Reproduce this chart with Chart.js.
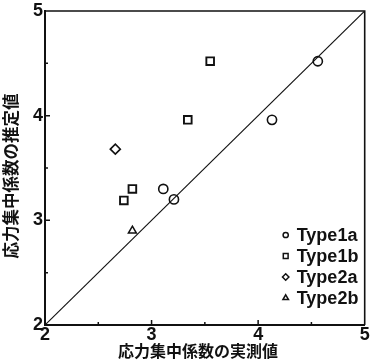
<!DOCTYPE html>
<html>
<head>
<meta charset="utf-8">
<script src="https://cdn.jsdelivr.net/npm/chart.js@4.4.1/dist/chart.umd.min.js"></script>
<style>
  html, body { margin: 0; padding: 0; background: #fff; }
  #wrap { width: 372px; height: 364px; }
</style>
</head>
<body>
<div id="wrap"><canvas id="c" width="372" height="364"></canvas></div>
<script>
// Measured vs. estimated stress concentration factors
const seriesNames = ['Type1a', 'Type1b', 'Type2a', 'Type2b'];
const type1aX = [4.56, 4.13, 3.11, 3.21];
const type1aY = [4.52, 3.96, 3.30, 3.20];
const type1bX = [3.55, 3.34, 2.82, 2.74];
const type1bY = [4.52, 3.96, 3.30, 3.19];
const type2aX = [2.66];
const type2aY = [3.68];
const type2bX = [2.82];
const type2bY = [2.90];
const axisMin = 2;
const axisMax = 5;
const majorTicks = [2, 3, 4, 5];
const minorTicks = [2.5, 3.5, 4.5];
const xTitle = '応力集中係数の実測値';
const yTitle = '応力集中係数の推定値';

const toPoints = (xs, ys) => xs.map((x, i) => ({ x, y: ys[i] }));
const INK = '#111';

const markerStyles = [
  { pointStyle: 'circle', radius: 4.6, legendRadius: 2.6, width: 1.6 },
  { pointStyle: 'rect', radius: 5.4, legendRadius: 3.4, width: 1.9 },
  { pointStyle: 'rectRot', radius: 5.0, legendRadius: 3.2, width: 1.6 },
  { pointStyle: 'triangle', radius: 4.6, legendRadius: 3.2, width: 1.5 }
];
const seriesData = [
  toPoints(type1aX, type1aY),
  toPoints(type1bX, type1bY),
  toPoints(type2aX, type2aY),
  toPoints(type2bX, type2bY)
];

const datasets = seriesNames.map((name, i) => ({
  label: name,
  data: seriesData[i],
  pointStyle: markerStyles[i].pointStyle,
  pointRadius: markerStyles[i].radius,
  pointBorderWidth: markerStyles[i].width,
  pointBorderColor: INK,
  pointBackgroundColor: 'rgba(255,255,255,0)',
  showLine: false
}));

// y = x reference line
datasets.unshift({
  type: 'line',
  label: 'y=x',
  data: [{ x: axisMin, y: axisMin }, { x: axisMax, y: axisMax }],
  borderColor: INK,
  borderWidth: 1.1,
  pointRadius: 0,
  fill: false
});

// Closed frame, inward tick marks, axis titles and the in-plot legend
const decorations = {
  id: 'decorations',
  afterDraw(chart) {
    const { ctx, chartArea: a, scales } = chart;
    const xs = scales.x, ys = scales.y;
    ctx.save();
    ctx.strokeStyle = INK;
    ctx.lineCap = 'butt';

    // top and right edges of the frame
    ctx.lineWidth = 1.6;
    ctx.beginPath();
    ctx.moveTo(a.left, a.top);
    ctx.lineTo(a.right, a.top);
    ctx.lineTo(a.right, a.bottom);
    ctx.stroke();

    // inward ticks on bottom and left axes
    ctx.lineWidth = 1.5;
    const tickMark = (v, len) => {
      const px = xs.getPixelForValue(v);
      const py = ys.getPixelForValue(v);
      ctx.beginPath();
      ctx.moveTo(px, a.bottom);
      ctx.lineTo(px, a.bottom - len);
      ctx.moveTo(a.left, py);
      ctx.lineTo(a.left + len, py);
      ctx.stroke();
    };
    majorTicks.slice(1, -1).forEach(v => tickMark(v, 5));
    minorTicks.forEach(v => tickMark(v, 3));

    // axis titles
    ctx.fillStyle = INK;
    ctx.textAlign = 'center';
    ctx.textBaseline = 'middle';
    ctx.font = 'bold 16px "Noto Sans CJK JP"';
    ctx.fillText(xTitle, a.left + 153, a.bottom + 26);
    ctx.save();
    ctx.translate(11, a.top + 165);
    ctx.rotate(-Math.PI / 2);
    ctx.font = 'bold 16.5px "Noto Sans CJK JP"';
    ctx.fillText(yTitle, 0, 0);
    ctx.restore();

    // legend
    const rowGap = 21;
    const firstRow = a.bottom - 27 - rowGap * (seriesNames.length - 1);
    ctx.textAlign = 'left';
    ctx.font = 'bold 18px "Liberation Sans", Arial, sans-serif';
    seriesNames.forEach((name, i) => {
      const y = firstRow + i * rowGap;
      const m = markerStyles[i];
      ctx.fillStyle = '#fff';
      ctx.strokeStyle = INK;
      ctx.lineWidth = 1.5;
      Chart.helpers.drawPoint(ctx, {
        pointStyle: m.pointStyle,
        radius: m.legendRadius,
        rotation: 0,
        borderWidth: 1.5
      }, a.right - 79, y);
      ctx.fillStyle = INK;
      ctx.fillText(name, a.right - 68, y + 1);
    });
    ctx.restore();
  }
};

const tickFont = { family: '"Liberation Sans", Arial, sans-serif', size: 18, weight: 'bold', lineHeight: 1 };

new Chart(document.getElementById('c'), {
  type: 'scatter',
  data: { datasets },
  options: {
    responsive: false,
    animation: false,
    events: [],
    layout: { padding: { top: 9, right: 6, left: 0, bottom: 0 } },
    plugins: { legend: { display: false }, tooltip: { enabled: false } },
    scales: {
      x: {
        type: 'linear',
        min: axisMin,
        max: axisMax,
        afterBuildTicks: s => { s.ticks = majorTicks.map(v => ({ value: v })); },
        ticks: { font: tickFont, color: INK, padding: 1, maxRotation: 0 },
        grid: { display: false, drawTicks: false },
        border: { display: true, color: INK, width: 2 },
        afterFit: s => { s.height = 39; }
      },
      y: {
        type: 'linear',
        min: axisMin,
        max: axisMax,
        afterBuildTicks: s => { s.ticks = majorTicks.map(v => ({ value: v })); },
        ticks: { font: tickFont, color: INK, padding: 2 },
        grid: { display: false, drawTicks: false },
        border: { display: true, color: INK, width: 2 },
        afterFit: s => { s.width = 45; }
      }
    }
  },
  plugins: [decorations]
});
</script>
</body>
</html>
